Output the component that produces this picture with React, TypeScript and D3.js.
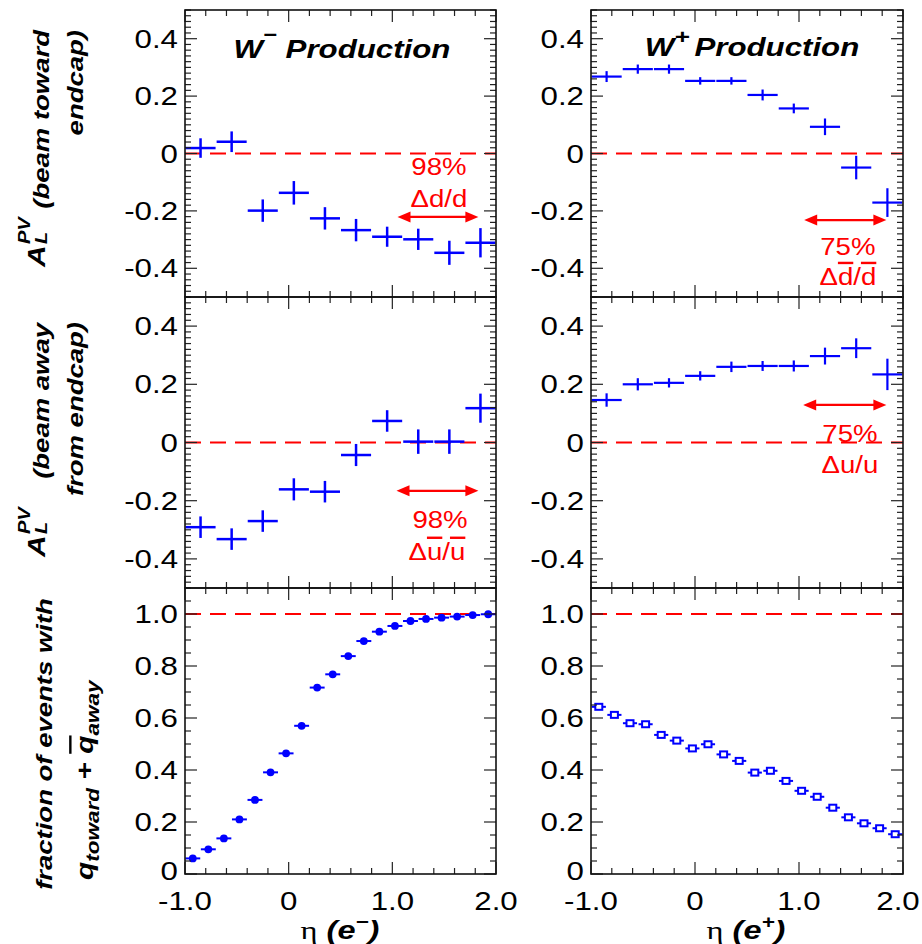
import React from "react";
import * as d3 from "d3";

// Pseudorapidity bin centres
const etaCoarse = [-0.85, -0.55, -0.25, 0.05, 0.35, 0.65, 0.95, 1.25, 1.55, 1.85];
const etaFine = [
  -0.925, -0.775, -0.625, -0.475, -0.325, -0.175, -0.025, 0.125, 0.275, 0.425,
  0.575, 0.725, 0.875, 1.025, 1.175, 1.325, 1.475, 1.625, 1.775, 1.925,
];

// A_L^PV, beam toward endcap
const wMinusToward = [0.019, 0.041, -0.199, -0.137, -0.226, -0.267, -0.29, -0.299, -0.346, -0.311];
const wMinusTowardErr = [0.034, 0.036, 0.039, 0.041, 0.039, 0.039, 0.035, 0.037, 0.042, 0.051];
const wPlusToward = [0.268, 0.294, 0.294, 0.253, 0.253, 0.204, 0.157, 0.093, -0.049, -0.171];
const wPlusTowardErr = [0.019, 0.016, 0.016, 0.013, 0.013, 0.019, 0.017, 0.029, 0.041, 0.05];

// A_L^PV, beam away from endcap
const wMinusAway = [-0.291, -0.332, -0.27, -0.161, -0.169, -0.043, 0.074, 0.003, 0.003, 0.118];
const wMinusAwayErr = [0.037, 0.037, 0.037, 0.038, 0.037, 0.038, 0.037, 0.042, 0.042, 0.05];
const wPlusAway = [0.146, 0.2, 0.205, 0.229, 0.26, 0.263, 0.263, 0.297, 0.324, 0.234];
const wPlusAwayErr = [0.023, 0.021, 0.016, 0.016, 0.018, 0.017, 0.019, 0.029, 0.034, 0.054];

// Fraction of events with q_toward + qbar_away
const wMinusFraction = [
  0.06, 0.095, 0.137, 0.21, 0.285, 0.391, 0.464, 0.57, 0.717, 0.768,
  0.838, 0.896, 0.932, 0.954, 0.973, 0.981, 0.986, 0.99, 0.996, 0.999,
];
const wPlusFraction = [
  0.643, 0.612, 0.58, 0.576, 0.535, 0.513, 0.483, 0.499, 0.46, 0.435,
  0.39, 0.397, 0.358, 0.32, 0.297, 0.255, 0.218, 0.195, 0.176, 0.153,
];

// Axis ticks
const etaTicks = [-1, 0, 1, 2];
const etaTickLabels = ["-1.0", "0", "1.0", "2.0"];
const asymTicks = [-0.4, -0.2, 0, 0.2, 0.4];
const asymTickLabels = ["-0.4", "-0.2", "0", "0.2", "0.4"];
const fracTicks = [0, 0.2, 0.4, 0.6, 0.8, 1.0];
const fracTickLabels = ["0", "0.2", "0.4", "0.6", "0.8", "1.0"];

// Quark-flavour purity annotations
const purityLeft = ["98%", "98%"];
const purityRight = ["75%", "75%"];

const FONT = "'Liberation Sans', Arial, Helvetica, sans-serif";
const SERIF = "'Liberation Serif', 'DejaVu Serif', serif";
const SX = 1.25;
const BLUE = "#0000ff";
const RED = "#ff0000";
const WIDTH = 922;
const HEIGHT = 944;

const X_LEFT: [number, number] = [185, 496];
const X_RIGHT: [number, number] = [591, 903];
const ROW0: [number, number] = [10, 297];
const ROW1: [number, number] = [297, 588];
const ROW2: [number, number] = [588, 874];

type TProps = {
  x: number;
  y: number;
  rot?: number;
  anchor?: "start" | "middle" | "end";
  size?: number;
  bold?: boolean;
  italic?: boolean;
  fill?: string;
  family?: string;
  sx?: number;
  children?: React.ReactNode;
};

function T({ x, y, rot = 0, anchor = "middle", size = 25, bold = false, italic = false, fill = "#000", family = FONT, sx = SX, children }: TProps) {
  return (
    <g transform={`translate(${x},${y})${rot ? ` rotate(${rot})` : ""} scale(${sx},1)`}>
      <text
        textAnchor={anchor}
        fontSize={size}
        fontFamily={family}
        fontWeight={bold ? "bold" : "normal"}
        fontStyle={italic ? "italic" : "normal"}
        fill={fill}
      >
        {children}
      </text>
    </g>
  );
}

function steps(lo: number, hi: number, step: number) {
  const n = Math.round((hi - lo) / step);
  return d3.range(n + 1).map((i) => +(lo + i * step).toFixed(6));
}

type Scales = { x: d3.ScaleLinear<number, number>; y: d3.ScaleLinear<number, number> };

type PanelProps = {
  xr: [number, number];
  yr: [number, number];
  yDomain: [number, number];
  yMajor: number[];
  yLabels: string[];
  yMinorStep: number;
  showX: boolean;
  refLine: number;
  render: (s: Scales) => React.ReactNode;
};

function Panel({ xr, yr, yDomain, yMajor, yLabels, yMinorStep, showX, refLine, render }: PanelProps) {
  const x = d3.scaleLinear().domain([-1, 2]).range(xr);
  const y = d3.scaleLinear().domain(yDomain).range([yr[1], yr[0]]);
  const isMajor = (arr: number[], v: number) => arr.some((t) => Math.abs(t - v) < 1e-6);
  const xMinor = steps(-1, 2, 0.2).filter((v) => !isMajor(etaTicks, v));
  const yMinor = steps(yDomain[0], yDomain[1], yMinorStep).filter((v) => !isMajor(yMajor, v));
  const [x0, x1] = xr;
  const [y0, y1] = yr;
  const MJ = 12;
  const MN = 6;
  return (
    <g>
      <line x1={x0} x2={x1} y1={y(refLine)} y2={y(refLine)} stroke={RED} strokeWidth={2} strokeDasharray="16 9" />
      {render({ x, y })}
      <g stroke="#222" strokeWidth={1.2}>
        {etaTicks.map((t) => (
          <g key={"xm" + t}>
            <line x1={x(t)} x2={x(t)} y1={y1} y2={y1 - MJ} />
            <line x1={x(t)} x2={x(t)} y1={y0} y2={y0 + MJ} />
          </g>
        ))}
        {xMinor.map((t) => (
          <g key={"xn" + t}>
            <line x1={x(t)} x2={x(t)} y1={y1} y2={y1 - MN} />
            <line x1={x(t)} x2={x(t)} y1={y0} y2={y0 + MN} />
          </g>
        ))}
        {yMajor.map((t) => (
          <g key={"ym" + t}>
            <line x1={x0} x2={x0 + MJ} y1={y(t)} y2={y(t)} />
            <line x1={x1} x2={x1 - MJ} y1={y(t)} y2={y(t)} />
          </g>
        ))}
        {yMinor.map((t) => (
          <g key={"yn" + t}>
            <line x1={x0} x2={x0 + MN} y1={y(t)} y2={y(t)} />
            <line x1={x1} x2={x1 - MN} y1={y(t)} y2={y(t)} />
          </g>
        ))}
      </g>
      <rect x={x0} y={y0} width={x1 - x0} height={y1 - y0} fill="none" stroke="#111" strokeWidth={1.6} />
      {yMajor.map((t, i) => (
        // the lowest label of the bottom row sits a little higher to clear the eta labels
        <T key={"yl" + t} x={x0 - 7} y={y(t) + (showX && i === 0 ? 6 : 9)} anchor="end">
          {yLabels[i]}
        </T>
      ))}
      {showX &&
        etaTicks.map((t, i) => (
          // keep the last label inside the canvas
          <T key={"xl" + t} x={Math.min(x(t), WIDTH - 24)} y={910}>
            {etaTickLabels[i]}
          </T>
        ))}
    </g>
  );
}

const HW = 0.145;

function crosses(values: number[], errs: number[], width = 2.5) {
  return ({ x, y }: Scales) => (
    <g stroke={BLUE} strokeWidth={width}>
      {etaCoarse.map((e, i) => (
        <g key={i}>
          <line x1={x(e - HW)} x2={x(e + HW)} y1={y(values[i])} y2={y(values[i])} />
          <line x1={x(e)} x2={x(e)} y1={y(values[i] - errs[i])} y2={y(values[i] + errs[i])} />
        </g>
      ))}
    </g>
  );
}

function Arrow({ x1, x2, y }: { x1: number; x2: number; y: number }) {
  const h = 13;
  const w = 5.5;
  return (
    <g fill={RED}>
      <line x1={x1 + h - 1} x2={x2 - h + 1} y1={y} y2={y} stroke={RED} strokeWidth={2.2} />
      <path d={`M${x1},${y}L${x1 + h},${y - w}L${x1 + h},${y + w}Z`} />
      <path d={`M${x2},${y}L${x2 - h},${y - w}L${x2 - h},${y + w}Z`} />
    </g>
  );
}

const OL = { textDecoration: "overline" } as React.CSSProperties;

export default function App() {
  return (
    <svg width={WIDTH} height={HEIGHT} style={{ position: "absolute", left: 0, top: 0 }}>
      <rect width={WIDTH} height={HEIGHT} fill="#fff" />

      {/* W- beam toward endcap */}
      <Panel
        xr={X_LEFT}
        yr={ROW0}
        yDomain={[-0.5, 0.5]}
        yMajor={asymTicks}
        yLabels={asymTickLabels}
        yMinorStep={0.02}
        showX={false}
        refLine={0}
        render={(s) => (
          <g>
            {crosses(wMinusToward, wMinusTowardErr)(s)}
            <Arrow x1={s.x(1.05)} x2={s.x(1.83)} y={s.y(-0.221)} />
            <T x={s.x(1.45)} y={s.y(-0.075)} size={24} sx={1.15} fill={RED}>{purityLeft[0]}</T>
            <T x={s.x(1.45)} y={s.y(-0.186)} size={24} sx={1.15} fill={RED}>Δd/d</T>
          </g>
        )}
      />
      <T x={342} y={58} size={25} bold italic>
        W<tspan dy={-17} fontSize={19}>−</tspan>
        <tspan dy={17}> Production</tspan>
      </T>

      {/* W+ beam toward endcap */}
      <Panel
        xr={X_RIGHT}
        yr={ROW0}
        yDomain={[-0.5, 0.5]}
        yMajor={asymTicks}
        yLabels={asymTickLabels}
        yMinorStep={0.02}
        showX={false}
        refLine={0}
        render={(s) => (
          <g>
            {crosses(wPlusToward, wPlusTowardErr, 2.2)(s)}
            <Arrow x1={s.x(1.05)} x2={s.x(1.84)} y={s.y(-0.232)} />
            <T x={s.x(1.47)} y={s.y(-0.354)} size={24} sx={1.15} fill={RED}>{purityRight[0]}</T>
            <T x={s.x(1.47)} y={s.y(-0.458)} size={24} sx={1.15} fill={RED}>
              Δ<tspan style={OL}>d</tspan>/<tspan style={OL}>d</tspan>
            </T>
          </g>
        )}
      />
      <T x={752} y={56} size={25} bold italic>
        W<tspan dy={-12} fontSize={21}>+</tspan>
        <tspan dy={12} fontSize={14}> </tspan>
        <tspan>Production</tspan>
      </T>

      {/* W- beam away from endcap */}
      <Panel
        xr={X_LEFT}
        yr={ROW1}
        yDomain={[-0.5, 0.5]}
        yMajor={asymTicks}
        yLabels={asymTickLabels}
        yMinorStep={0.02}
        showX={false}
        refLine={0}
        render={(s) => (
          <g>
            {crosses(wMinusAway, wMinusAwayErr)(s)}
            <Arrow x1={s.x(1.04)} x2={s.x(1.83)} y={s.y(-0.166)} />
            <T x={s.x(1.46)} y={s.y(-0.293)} size={24} sx={1.15} fill={RED}>{purityLeft[1]}</T>
            <T x={s.x(1.43)} y={s.y(-0.403)} size={24} sx={1.15} fill={RED}>
              Δ<tspan style={OL}>u</tspan>/<tspan style={OL}>u</tspan>
            </T>
          </g>
        )}
      />

      {/* W+ beam away from endcap */}
      <Panel
        xr={X_RIGHT}
        yr={ROW1}
        yDomain={[-0.5, 0.5]}
        yMajor={asymTicks}
        yLabels={asymTickLabels}
        yMinorStep={0.02}
        showX={false}
        refLine={0}
        render={(s) => (
          <g>
            {crosses(wPlusAway, wPlusAwayErr, 2.2)(s)}
            <Arrow x1={s.x(1.04)} x2={s.x(1.84)} y={s.y(0.129)} />
            <T x={s.x(1.49)} y={s.y(0.002)} size={24} sx={1.15} fill={RED}>{purityRight[1]}</T>
            <T x={s.x(1.49)} y={s.y(-0.105)} size={24} sx={1.15} fill={RED}>Δu/u</T>
          </g>
        )}
      />

      {/* W- fraction */}
      <Panel
        xr={X_LEFT}
        yr={ROW2}
        yDomain={[0, 1.1]}
        yMajor={fracTicks}
        yLabels={fracTickLabels}
        yMinorStep={0.05}
        showX={true}
        refLine={1}
        render={({ x, y }) => (
          <g fill={BLUE} stroke={BLUE}>
            {etaFine.map((e, i) => (
              <g key={i}>
                <line x1={x(e - 0.072)} x2={x(e + 0.072)} y1={y(wMinusFraction[i])} y2={y(wMinusFraction[i])} strokeWidth={2} />
                <circle cx={x(e)} cy={y(wMinusFraction[i])} r={3.9} stroke="none" />
              </g>
            ))}
          </g>
        )}
      />

      {/* W+ fraction */}
      <Panel
        xr={X_RIGHT}
        yr={ROW2}
        yDomain={[0, 1.1]}
        yMajor={fracTicks}
        yLabels={fracTickLabels}
        yMinorStep={0.05}
        showX={true}
        refLine={1}
        render={({ x, y }) => (
          <g stroke={BLUE} fill="none" strokeWidth={2}>
            {etaFine.map((e, i) => (
              <g key={i}>
                <line x1={x(e - 0.068)} x2={x(e + 0.068)} y1={y(wPlusFraction[i])} y2={y(wPlusFraction[i])} />
                <rect x={x(e) - 3.5} y={y(wPlusFraction[i]) - 3} width={7} height={6} fill="#fff" />
              </g>
            ))}
          </g>
        )}
      />

      {/* y-axis titles */}
      <T x={45} y={267} rot={-90} anchor="start" size={24} bold italic>A</T>
      <T x={30} y={244} rot={-90} anchor="start" size={16} bold italic>PV</T>
      <T x={47} y={244} rot={-90} anchor="start" size={16} bold italic>L</T>
      <T x={49} y={30} rot={-90} anchor="end" size={22} bold italic>(beam toward</T>
      <T x={83} y={30} rot={-90} anchor="end" size={22} bold italic>endcap)</T>

      <T x={45} y={557} rot={-90} anchor="start" size={24} bold italic>A</T>
      <T x={30} y={534} rot={-90} anchor="start" size={16} bold italic>PV</T>
      <T x={47} y={534} rot={-90} anchor="start" size={16} bold italic>L</T>
      <T x={49} y={323} rot={-90} anchor="end" size={22} bold italic>(beam away</T>
      <T x={83} y={322} rot={-90} anchor="end" size={22} bold italic>from endcap)</T>

      <T x={52} y={744} rot={-90} size={22} bold italic>fraction of events with</T>
      <T x={93} y={880} rot={-90} anchor="start" size={24} bold italic>
        q<tspan dy={6} fontSize={18}>toward</tspan>
        <tspan dy={-6}> + </tspan>
        <tspan style={OL}>q</tspan>
        <tspan dy={6} fontSize={18}>away</tspan>
      </T>

      {/* x-axis titles */}
      <T x={340} y={939} size={26}>
        <tspan fontFamily={SERIF} fontStyle="normal" fontWeight="normal">η</tspan>
        <tspan fontWeight="bold" fontStyle="italic"> (e</tspan>
        <tspan fontWeight="bold" fontStyle="italic" dy={-11} fontSize={18}>−</tspan>
        <tspan fontWeight="bold" fontStyle="italic" dy={11}>)</tspan>
      </T>
      <T x={746} y={939} size={26}>
        <tspan fontFamily={SERIF} fontStyle="normal" fontWeight="normal">η</tspan>
        <tspan fontWeight="bold" fontStyle="italic"> (e</tspan>
        <tspan fontWeight="bold" fontStyle="italic" dy={-11} fontSize={18}>+</tspan>
        <tspan fontWeight="bold" fontStyle="italic" dy={11}>)</tspan>
      </T>
    </svg>
  );
}
